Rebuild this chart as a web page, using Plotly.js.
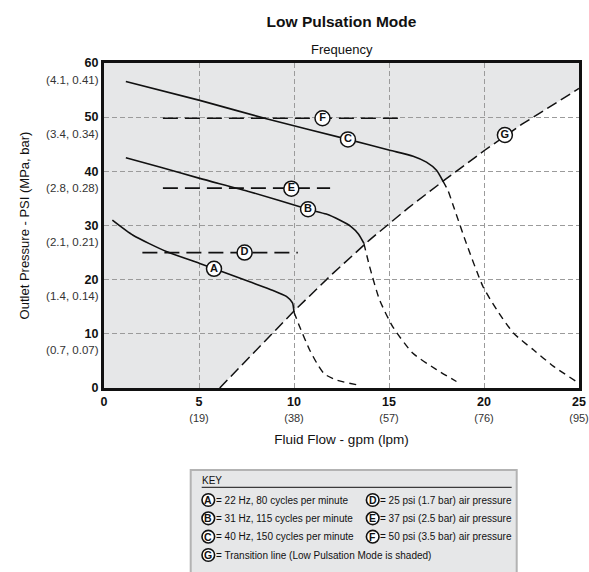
<!DOCTYPE html>
<html>
<head>
<meta charset="utf-8">
<script src="https://cdn.plot.ly/plotly-3.0.1.min.js"></script>
<style>html,body{margin:0;padding:0;background:#fff;}</style>
</head>
<body>
<div id="chart" style="width:589px;height:572px;"></div>
<script>
// ---- Data ----
const xTickVals = [0, 5, 10, 15, 20, 25];
const xTickMain = ['0', '5', '10', '15', '20', '25'];
const xTickSub = ['', '(19)', '(38)', '(57)', '(76)', '(95)'];
const yTickVals = [0, 10, 20, 30, 40, 50, 60];
const yTickMain = ['0', '10', '20', '30', '40', '50', '60'];
const yTickSub = ['', '(0.7, 0.07)', '(1.4, 0.14)', '(2.1, 0.21)', '(2.8, 0.28)', '(3.4, 0.34)', '(4.1, 0.41)'];

// Curve A (22 Hz) – solid in low pulsation zone, dashed beyond
const aSolidX = [0.44, 1.53, 3.28, 5.04, 7.67, 8.9, 9.6, 9.92, 10.0];
const aSolidY = [31.0, 28.2, 25.2, 23.0, 19.6, 18.0, 16.9, 15.7, 14.0];
const aDashX = [10.0, 10.3, 10.8, 11.2, 11.6, 12.2, 13.3];
const aDashY = [14.0, 11.3, 7.2, 4.6, 2.6, 1.5, 0.6];
// Curve B (31 Hz)
const bSolidX = [1.15, 2.93, 5.04, 7.7, 10.74, 11.7, 12.4, 13.0, 13.4, 13.68];
const bSolidY = [42.5, 40.8, 38.7, 36.2, 33.0, 32.1, 31.0, 29.8, 28.4, 26.7];
const bDashX = [13.68, 13.98, 14.5, 15.2, 16.26, 17.5, 18.55];
const bDashY = [26.7, 22.4, 16.3, 11.3, 6.4, 3.4, 1.2];
// Curve C (40 Hz)
const cSolidX = [1.15, 5.04, 8.55, 12.84, 15.04, 16.27, 16.97, 17.5, 17.84];
const cSolidY = [56.6, 53.1, 49.7, 45.9, 43.9, 42.8, 41.7, 40.2, 38.2];
const cDashX = [17.84, 18.1, 18.37, 19.07, 19.95, 20.68, 21.56, 22.6, 23.66, 24.86];
const cDashY = [38.2, 36.5, 33.8, 26.7, 18.7, 14.4, 10.1, 7.05, 4.0, 1.2];
// Transition line G
const gX = [6.09, 10.0, 12.0, 14.0, 16.0, 18.0, 20.0, 22.0, 25.0];
const gY = [0, 14.2, 21.0, 27.4, 33.2, 38.6, 43.8, 48.7, 55.3];
// Air pressure lines D, E, F
const dX = [2.02, 10.2], dY = [25.0, 25.0];
const eX = [3.1, 11.9], eY = [36.9, 36.9];
const fX = [3.1, 15.65], fY = [49.8, 49.8];
// Circled labels on the chart
const labelText = ['A', 'B', 'C', 'D', 'E', 'F', 'G'];
const labelX = [5.79, 10.74, 12.84, 7.4, 9.86, 11.5, 21.1];
const labelY = [22.0, 33.0, 45.9, 25.0, 36.8, 49.8, 46.7];
// Key
const keyLeftLetters = ['A', 'B', 'C', 'G'];
const keyLeftTexts = ['= 22 Hz, 80 cycles per minute', '= 31 Hz, 115 cycles per minute',
  '= 40 Hz, 150 cycles per minute', '= Transition line (Low Pulsation Mode is shaded)'];
const keyRightLetters = ['D', 'E', 'F'];
const keyRightTexts = ['= 25 psi (1.7 bar) air pressure', '= 37 psi (2.5 bar) air pressure',
  '= 50 psi (3.5 bar) air pressure'];

// ---- Styling ----
const FONT = '"Liberation Sans", Arial, sans-serif';
const SHADE = '#e6e7e8';

function line(x, y, dash, w) {
  return {x: x, y: y, type: 'scatter', mode: 'lines', hoverinfo: 'skip',
    line: {color: '#111', width: w || 1.6, dash: dash || 'solid', shape: 'spline', smoothing: 0.6}};
}

const traces = [
  line(aSolidX, aSolidY), line(aDashX, aDashY, '7px,5px', 1.4),
  line(bSolidX, bSolidY), line(bDashX, bDashY, '7px,5px', 1.4),
  line(cSolidX, cSolidY), line(cDashX, cDashY, '7px,5px', 1.4),
  Object.assign(line(gX, gY), {line: {color: '#111', width: 1.5, dash: '11px,5px', shape: 'linear'}}),
  line(dX, dY, '15px,7px', 1.6), line(eX, eY, '15px,7px', 1.6), line(fX, fY, '15px,7px', 1.6),
  {x: labelX, y: labelY, text: labelText, type: 'scatter', mode: 'markers+text', hoverinfo: 'skip',
    marker: {symbol: 'circle', size: 15, color: '#fff', line: {color: '#111', width: 1.5}},
    textposition: 'middle center', textfont: {family: FONT, size: 11, color: '#111', weight: 'bold'}}
];

// shaded (low pulsation) region, built from the transition line
let path = 'M 0,0';
for (let i = 0; i < gX.length; i++) path += ' L ' + gX[i] + ',' + gY[i];
path += ' L 25,60 L 0,60 Z';

const PX = px => (px - 104) / 475;
const PY = py => (388 - py) / 325;

const shapes = [
  {type: 'path', xref: 'x', yref: 'y', path: path, fillcolor: SHADE, line: {width: 0}, layer: 'below'},
  {type: 'rect', xref: 'paper', yref: 'paper', x0: PX(190.7), x1: PX(516.7), y0: PY(590), y1: PY(470),
    fillcolor: SHADE, line: {color: '#b3b3b3', width: 2}},
  {type: 'line', xref: 'paper', yref: 'paper', x0: PX(201.7), x1: PX(511.7), y0: PY(487.3), y1: PY(487.3),
    line: {color: '#111', width: 1}}
];
const annotations = [
  {text: 'Frequency', xref: 'paper', yref: 'paper', x: 0.5, y: PY(49), xanchor: 'center', yanchor: 'middle',
    showarrow: false, font: {family: FONT, size: 13, color: '#111'}},
  {text: 'KEY', xref: 'paper', yref: 'paper', x: PX(200), y: PY(480), xanchor: 'left', yanchor: 'middle',
    showarrow: false, font: {family: FONT, size: 10, color: '#111'}}
];
const rowY = [500, 518.3, 536.7, 555];
function keyEntry(letter, text, cx, tx, py) {
  shapes.push({type: 'circle', xref: 'paper', yref: 'paper', xsizemode: 'pixel', ysizemode: 'pixel',
    xanchor: PX(cx), yanchor: PY(py), x0: -6.3, x1: 6.3, y0: -6.3, y1: 6.3,
    fillcolor: '#fff', line: {color: '#111', width: 1.6}});
  annotations.push({text: '<b>' + letter + '</b>', xref: 'paper', yref: 'paper', x: PX(cx), y: PY(py),
    xanchor: 'center', yanchor: 'middle', showarrow: false, font: {family: FONT, size: 10.5, color: '#111'}});
  annotations.push({text: text, xref: 'paper', yref: 'paper', x: PX(tx), y: PY(py),
    xanchor: 'left', yanchor: 'middle', showarrow: false, font: {family: FONT, size: 10, color: '#111'}});
}
keyLeftLetters.forEach((l, i) => keyEntry(l, keyLeftTexts[i], 208.3, 214, rowY[i]));
keyRightLetters.forEach((l, i) => keyEntry(l, keyRightTexts[i], 372.7, 378, rowY[i]));

const xTickText = xTickMain.map((m, i) => '<b>' + m + '</b>' + (xTickSub[i] ? '<br><span style="font-size:11px;color:#333">' + xTickSub[i] + '</span>' : ''));
const yTickText = yTickMain.map((m, i) => '<b>' + m + '</b><br><span style="font-size:11.5px;color:#333">' + (yTickSub[i] || ' ') + '</span>');

const axisCommon = {
  showgrid: true, gridcolor: '#9b9b9b', gridwidth: 1, griddash: '5px,3px',
  showline: true, mirror: true, linecolor: '#111', linewidth: 3, zeroline: false, ticks: '',
  tickfont: {family: FONT, size: 12.5, color: '#111'}, fixedrange: true
};

const layout = {
  width: 589, height: 572,
  margin: {l: 104, r: 10, t: 63, b: 184},
  paper_bgcolor: '#fff', plot_bgcolor: '#fff', showlegend: false,
  font: {family: FONT, color: '#111'},
  title: {text: 'Low Pulsation Mode', x: 0.5, xref: 'paper', y: 1 - 21.5 / 572, yref: 'container',
    xanchor: 'center', yanchor: 'middle', font: {family: FONT, size: 15.5, color: '#111', weight: 'bold'}},
  xaxis: Object.assign({}, axisCommon, {range: [0, 25], tickmode: 'array', tickvals: xTickVals, ticktext: xTickText,
    ticklabeloverflow: 'allow',
    title: {text: 'Fluid Flow - gpm (lpm)', font: {family: FONT, size: 13.5, color: '#111'}, standoff: 12}}),
  yaxis: Object.assign({}, axisCommon, {range: [0, 60], tickmode: 'array', tickvals: yTickVals, ticktext: yTickText,
    ticklabelshift: 8, ticklabeloverflow: 'allow',
    title: {text: 'Outlet Pressure - PSI (MPa, bar)', font: {family: FONT, size: 13, color: '#111'}, standoff: 14}}),
  shapes: shapes, annotations: annotations
};

Plotly.newPlot('chart', traces, layout, {displayModeBar: false, staticPlot: true});
</script>
</body>
</html>
